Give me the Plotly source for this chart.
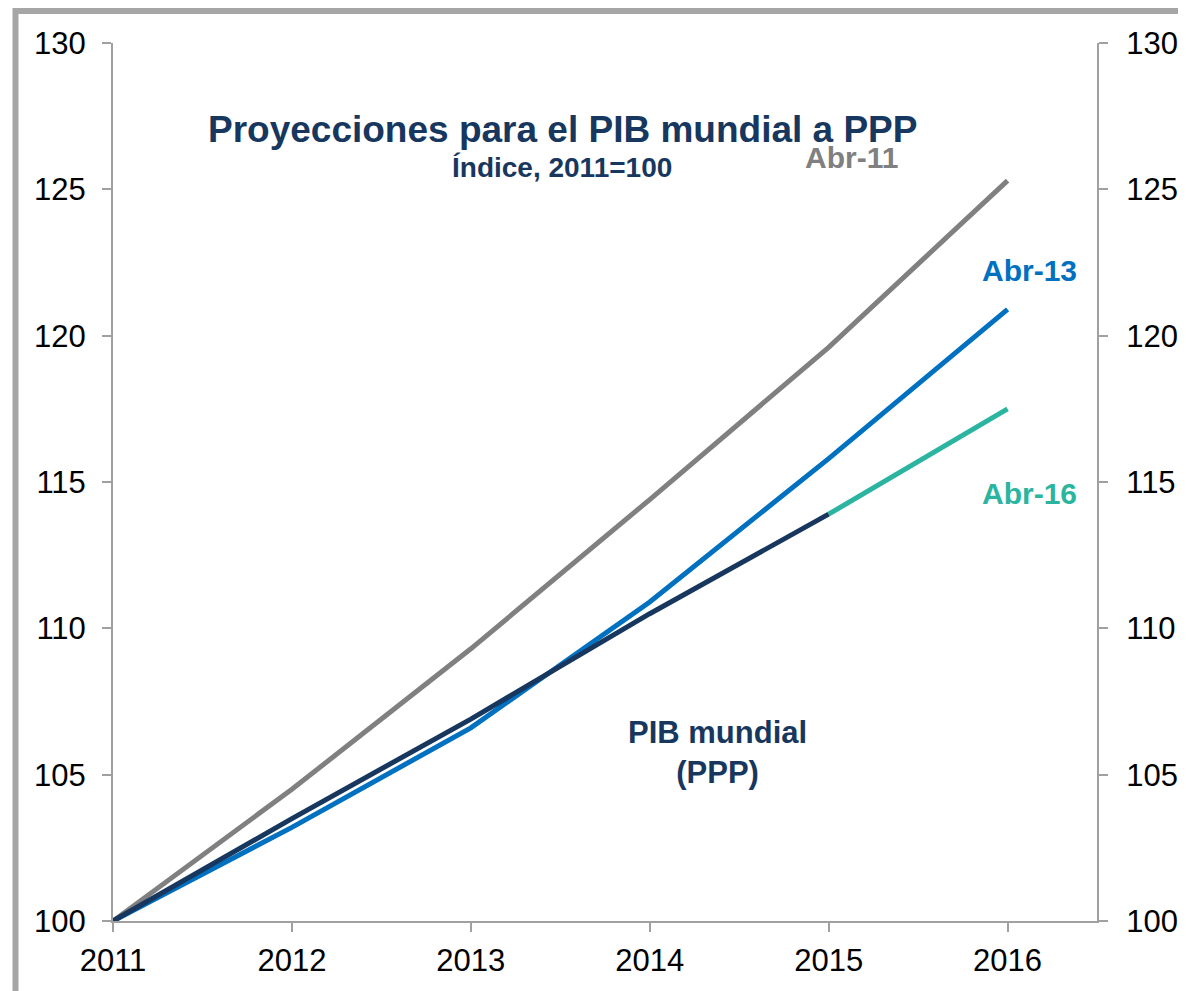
import plotly.graph_objects as go

years = [2011, 2012, 2013, 2014, 2015, 2016]
abr11 = [100, 104.5, 109.3, 114.4, 119.6, 125.3]
abr13 = [100, 103.2, 106.6, 110.9, 115.8, 120.9]
pib_years = [2011, 2012, 2013, 2014, 2015]
pib = [100, 103.5, 106.9, 110.5, 113.9]
abr16_years = [2015, 2016]
abr16 = [113.9, 117.5]
y_ticks = [100, 105, 110, 115, 120, 125, 130]

GRAY = "#808080"
BLUE = "#0070C0"
NAVY = "#17375E"
TEAL = "#2BB5A0"
FONT = "Liberation Sans, Arial, sans-serif"

fig = go.Figure()
fig.add_trace(go.Scatter(x=years, y=abr11, mode="lines", line=dict(color=GRAY, width=5), showlegend=False))
fig.add_trace(go.Scatter(x=years, y=abr13, mode="lines", line=dict(color=BLUE, width=5), showlegend=False))
fig.add_trace(go.Scatter(x=abr16_years, y=abr16, mode="lines", line=dict(color=TEAL, width=5), showlegend=False))
fig.add_trace(go.Scatter(x=pib_years, y=pib, mode="lines", line=dict(color=NAVY, width=5), showlegend=False))
# dummy trace for right axis
fig.add_trace(go.Scatter(x=[2011], y=[100], yaxis="y2", mode="lines", line=dict(width=0), showlegend=False, hoverinfo="skip"))

axis_color = "#A0A0A0"
TICKFONT = dict(size=31, family=FONT, color="black")
fig.update_layout(
    width=1186, height=991,
    margin=dict(l=105, r=97, t=35, b=78),
    paper_bgcolor="white", plot_bgcolor="white",
    font=dict(family=FONT, size=28, color="black"),
    xaxis=dict(range=[2011, 2016.5], tickvals=years, ticktext=[str(y) for y in years],
               showgrid=False, zeroline=False, showline=True, linecolor=axis_color, linewidth=2,
               ticks="outside", ticklen=9, tickcolor=axis_color, tickwidth=2,
               ticklabelstandoff=2, tickfont=TICKFONT),
    yaxis=dict(range=[100, 130], tickvals=y_ticks, showgrid=False, zeroline=False,
               showline=True, linecolor=axis_color, linewidth=2,
               ticks="outside", ticklen=9, tickcolor=axis_color, tickwidth=2,
               ticklabelstandoff=10, tickfont=TICKFONT),
    yaxis2=dict(range=[100, 130], tickvals=y_ticks, overlaying="y", side="right",
                showgrid=False, zeroline=False, showline=True, linecolor=axis_color, linewidth=2,
                ticks="outside", ticklen=9, tickcolor=axis_color, tickwidth=2,
                ticklabelstandoff=12, tickfont=TICKFONT),
)

anns = [
    dict(x=2013.51, y=127.05, text="<b>Proyecciones para el PIB mundial a PPP</b>", font=dict(size=37, color=NAVY)),
    dict(x=2013.51, y=125.76, text="<b>Índice, 2011=100</b>", font=dict(size=28, color=NAVY)),
    dict(x=2015.13, y=126.1, text="<b>Abr-11</b>", font=dict(size=30, color=GRAY)),
    dict(x=2016.12, y=122.24, text="<b>Abr-13</b>", font=dict(size=30, color=BLUE)),
    dict(x=2016.12, y=114.6, text="<b>Abr-16</b>", font=dict(size=30, color=TEAL)),
    dict(x=2014.38, y=105.77, text="<b>PIB mundial<br>(PPP)</b>", font=dict(size=31, color=NAVY)),
]
for a in anns:
    fig.add_annotation(xref="x", yref="y", showarrow=False, xanchor="center", yanchor="middle",
                       font_family=FONT, **a)

# outer frame (partially visible)
fig.add_shape(type="rect", xref="paper", yref="paper",
              x0=(7.5 - 105) / 984, x1=(1220 - 105) / 984,
              y0=(913 - 1020) / 878, y1=(913 - 3) / 878,
              line=dict(color="#A6A6A6", width=6), layer="below")

fig.write_html("out.html")
